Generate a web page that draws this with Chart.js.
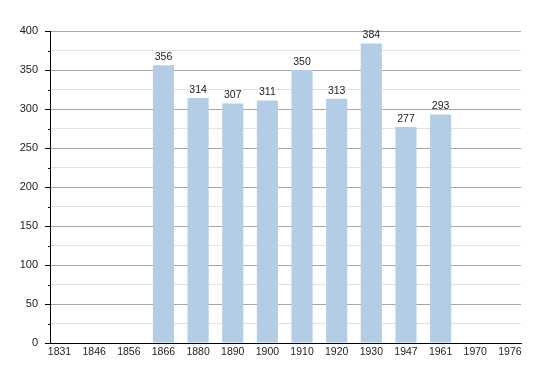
<!DOCTYPE html>
<html><head><meta charset="utf-8">
<script src="https://cdn.jsdelivr.net/npm/chart.js@4/dist/chart.umd.min.js"></script>
<style>html,body{margin:0;padding:0;background:#fff;}canvas{display:block;}</style>
</head><body>
<canvas id="c" width="550" height="373"></canvas>
<script>
const years = ['1831','1846','1856','1866','1880','1890','1900','1910','1920','1930','1947','1961','1970','1976'];
const population = [null,null,null,356,314,307,311,350,313,384,277,293,null,null];
const yTicks = [0,50,100,150,200,250,300,350,400];

const points = [];
years.forEach((y,i)=>{ if(population[i]!==null) points.push({x:i,y:population[i]}); });

const FONT = '"Liberation Sans", Arial, sans-serif';

const labelPlugin = {
  id:'labels',
  afterDatasetsDraw(chart){
    const ctx = chart.ctx;
    const meta = chart.getDatasetMeta(0);
    ctx.save();
    ctx.font = '10.5px ' + FONT;
    ctx.fillStyle = '#222';
    ctx.textAlign = 'center';
    ctx.textBaseline = 'bottom';
    meta.data.forEach((el,i)=>{
      ctx.fillText(String(points[i].y), el.x, el.y - 3);
    });
    ctx.restore();
  }
};
const minorTicks = {
  id:'minorTicks',
  afterDraw(chart){
    const ys = chart.scales.y, ctx = chart.ctx;
    ctx.save();
    ctx.strokeStyle = '#000';
    ctx.lineWidth = 1;
    for(let v=25; v<400; v+=50){
      const p = Math.round(ys.getPixelForValue(v)) + 0.5;
      ctx.beginPath(); ctx.moveTo(ys.right-2, p); ctx.lineTo(ys.right, p); ctx.stroke();
    }
    ctx.restore();
  }
};

new Chart(document.getElementById('c'), {
  type:'bar',
  data:{ datasets:[{ data: points, backgroundColor:'#b3cde6', borderWidth:0, barPercentage:0.61, categoryPercentage:1 }]},
  options:{
    responsive:false, animation:false,
    layout:{ padding:{ left:0, right:29, top:31, bottom:0 } },
    plugins:{ legend:{display:false}, tooltip:{enabled:false} },
    scales:{
      x:{
        type:'linear', min:-0.275, max:13.32, offset:false,
        afterBuildTicks(s){ s.ticks = years.map((y,i)=>({value:i})); },
        afterFit(s){ s.height = 30; },
        grid:{ display:false, drawTicks:false },
        border:{ display:true, color:'#000', width:1 },
        ticks:{ padding:3, color:'#222', font:{ size:10.5, family:FONT }, autoSkip:false, maxRotation:0,
          callback:(v)=> years[v] }
      },
      y:{
        min:0, max:400,
        afterBuildTicks(s){ const t=[]; for(let v=0; v<=400; v+=25) t.push({value:v}); s.ticks=t; },
        afterFit(s){ s.width = 50; },
        border:{ display:true, color:'#000', width:1 },
        grid:{
          color:(c)=> (c.tick && c.tick.value % 50 === 0) ? '#a6a6a6' : '#e2e2e2',
          tickColor:(c)=> (c.tick && c.tick.value % 50 === 0) ? '#000' : 'rgba(0,0,0,0)',
          tickLength:5, lineWidth:1
        },
        ticks:{ padding:7, color:'#222', font:{ size:11, family:FONT },
          callback:(v)=> yTicks.includes(v) ? String(v) : '' }
      }
    }
  },
  plugins:[labelPlugin, minorTicks]
});
</script>
</body></html>
